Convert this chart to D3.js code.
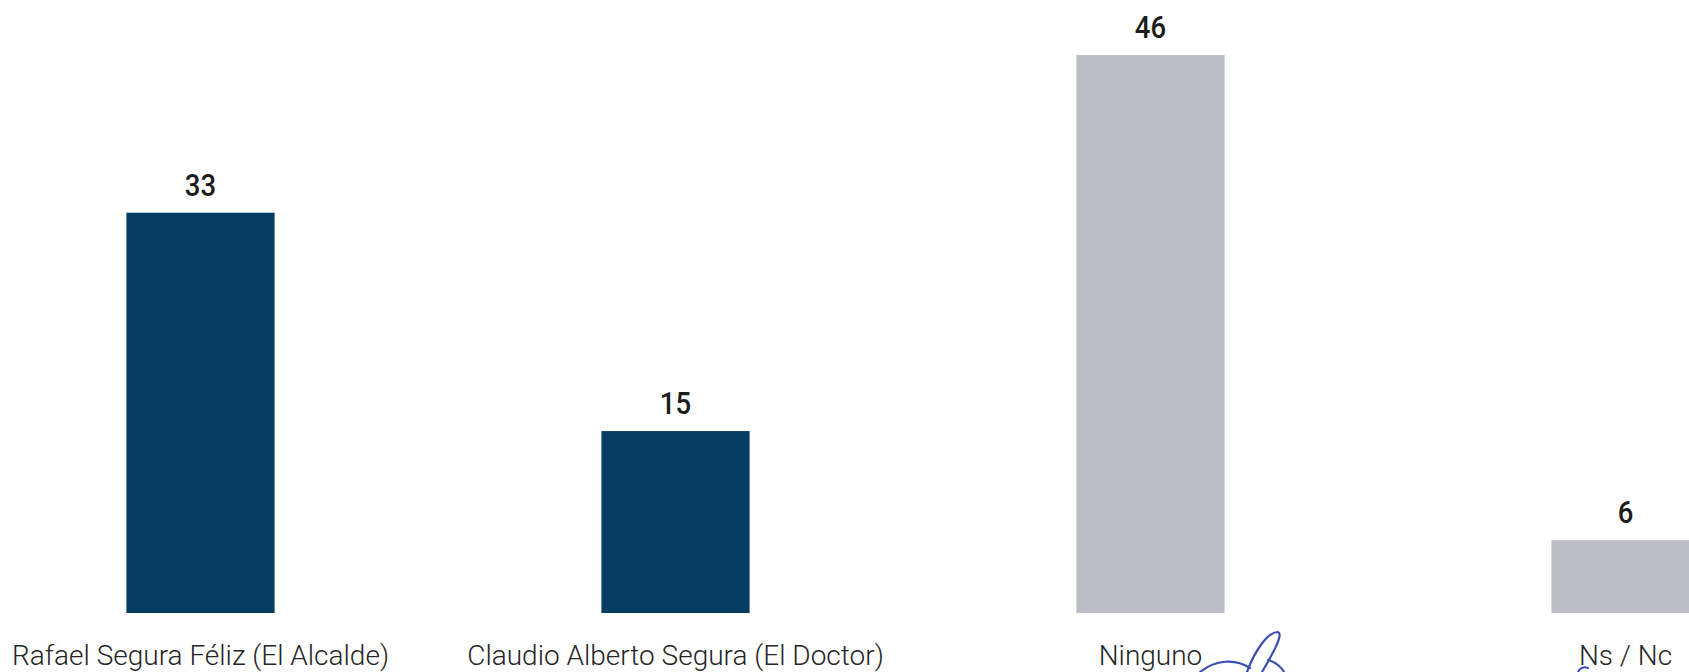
<!DOCTYPE html>
<html><head><meta charset="utf-8">
<script src="https://cdn.jsdelivr.net/npm/d3@7"></script>
<style>
html,body{margin:0;padding:0;background:#fff;overflow:hidden;}
</style></head>
<body>
<svg id="chart" width="1689" height="672"></svg>
<script>
const categories = ["Rafael Segura Féliz (El Alcalde)", "Claudio Alberto Segura (El Doctor)", "Ninguno", "Ns / Nc"];
const values = [33, 15, 46, 6];
const barColors = ["#073d60", "#073d60", "#bdbec5", "#bdbec5"];

const svg = d3.select("#chart");
const baseline = 613;
const x = d3.scaleBand().domain(categories).range([-37, 1863]).paddingInner(0.688).paddingOuter(0.344);
const y = d3.scaleLinear().domain([0, 46]).range([baseline, 55]);

const g = svg.append("g");
g.selectAll("rect.bar").data(categories).join("rect")
  .attr("class","bar")
  .attr("x", d => x(d))
  .attr("width", x.bandwidth())
  .attr("y", (d,i) => y(values[i]))
  .attr("height", (d,i) => baseline - y(values[i]))
  .attr("fill", (d,i) => barColors[i]);

g.selectAll("text.val").data(categories).join("text")
  .attr("class","val")
  .attr("transform", (d,i) => `translate(${x(d) + x.bandwidth()/2},${y(values[i]) - 17}) scale(0.86,1)`)
  .attr("text-anchor","middle")
  .attr("font-family","Roboto, sans-serif")
  .attr("font-weight", 500)
  .attr("font-size", 32)
  .attr("fill","#1c1c1c")
  .text((d,i) => values[i]);

g.selectAll("text.cat").data(categories).join("text")
  .attr("class","cat")
  .attr("x", d => x(d) + x.bandwidth()/2)
  .attr("y", 665)
  .attr("text-anchor","middle")
  .attr("font-family","Roboto, sans-serif")
  .attr("font-weight", 300)
  .attr("font-size", 28)
  .attr("fill","#262626")
  .text(d => d);

// scanned signature stroke (decoration)
svg.append("path")
  .attr("d", "M1200,672 C1215,660 1235,658 1250,668 M1247,672 C1255,650 1268,632 1278,632 C1284,634 1272,655 1262,672 M1268,660 C1276,662 1282,668 1284,672")
  .attr("fill","none").attr("stroke","#3a4fb0").attr("stroke-width",2.2).attr("stroke-linecap","round");
svg.append("path")
  .attr("d", "M1578,672 C1580,668 1584,666 1588,668")
  .attr("fill","none").attr("stroke","#3a4fb0").attr("stroke-width",2).attr("stroke-linecap","round");
</script>
</body></html>
